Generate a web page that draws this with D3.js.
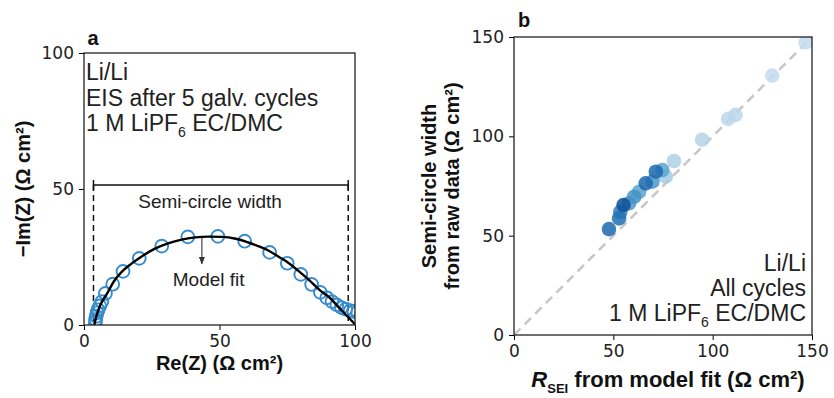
<!DOCTYPE html>
<html>
<head>
<meta charset="utf-8">
<script src="https://cdn.jsdelivr.net/npm/d3@7"></script>
<style>
  html, body { margin: 0; padding: 0; background: #fff; }
  svg { display: block; }
  .tick text { font-family: "DejaVu Sans", sans-serif; font-size: 17px; fill: #222; }
  .lab { font-family: "Liberation Sans", Arial, sans-serif; font-weight: bold; font-size: 20px; fill: #111; }
  .note { font-family: "Liberation Sans", Arial, sans-serif; font-size: 23px; fill: #222; }
  .small { font-family: "Liberation Sans", Arial, sans-serif; font-size: 19px; fill: #222; }
</style>
</head>
<body>
<svg id="fig" width="834" height="398"></svg>
<script>
// Panel a: impedance spectrum (Re, -Im) in Ω cm²
const eisRe = [4.2, 4.3, 4.5, 4.8, 5.2, 5.8, 6.6, 7.9, 10.6, 14.4, 20.4, 28.7, 38.3, 49.4, 59.3, 68.5, 75.0, 80.0, 84.0, 87.2, 89.6, 91.5, 93.3, 95.0, 96.6, 98.2, 99.6, 101.0, 102.5, 104.0];
const eisIm = [1.0, 2.0, 3.2, 4.5, 5.6, 7.0, 8.6, 11.6, 15.0, 19.7, 24.5, 29.0, 32.4, 32.6, 30.8, 26.7, 22.7, 18.6, 14.9, 12.0, 10.0, 8.6, 7.4, 6.4, 5.8, 5.3, 5.0, 4.7, 4.5, 4.3];

// Equivalent-circuit fit through the spectrum
const fitRe = [3.8, 4.5, 6.0, 8.5, 11.0, 14.0, 17.3, 21.0, 26.0, 31.0, 36.0, 41.0, 46.0, 51.0, 56.0, 60.0, 64.0, 68.0, 72.0, 75.5, 79.0, 83.0, 87.0, 90.5, 94.0, 97.0, 99.3, 100.0];
const fitIm = [0.0, 3.0, 7.3, 11.5, 16.0, 19.6, 22.4, 25.0, 28.0, 30.0, 31.4, 32.2, 32.5, 32.4, 31.7, 30.6, 29.1, 27.4, 25.0, 22.8, 20.0, 16.6, 12.8, 10.2, 6.5, 3.4, 1.0, 0.2];

// Semi-circle width marker: start/end of the arc on Re(Z) and the bracket height
const widthStart = 3.5, widthEnd = 97.5, bracketIm = 51.5;

const ticksA = [0, 50, 100];

// Panel b: semi-circle width vs fitted R_SEI, shade = position in the Blues map
const rsei  = [146.8, 130.0, 111.5, 107.8, 94.7, 80.5, 76.4, 74.7, 63.0, 69.7, 57.9, 60.5, 53.5, 66.3, 71.4, 52.9, 47.8, 55.1];
const width = [147.3, 130.6, 110.8, 108.8, 98.3, 87.6, 79.7, 83.0, 72.1, 77.2, 66.3, 69.6, 61.9, 76.3, 82.2, 58.7, 53.3, 65.4];
const shade = [0.25, 0.25, 0.28, 0.28, 0.30, 0.32, 0.35, 0.55, 0.55, 0.60, 0.60, 0.62, 0.70, 0.78, 0.78, 0.75, 0.78, 0.88];

const ticksB = [0, 50, 100, 150];

const svg = d3.select("#fig");

// ---------- panel a ----------
const xa = d3.scaleLinear().domain([0, 100]).range([84, 355]);
const ya = d3.scaleLinear().domain([0, 100]).range([325, 53]);

const ga = svg.append("g");
ga.append("clipPath").attr("id", "clipA")
  .append("rect").attr("x", xa(0)).attr("y", ya(100))
  .attr("width", xa(100) - xa(0)).attr("height", ya(0) - ya(100));

ga.append("g").attr("transform", `translate(0,${ya(0)})`)
  .call(d3.axisBottom(xa).tickValues(ticksA).tickSize(5).tickPadding(5))
  .call(g => g.select(".domain").remove());
ga.append("g").attr("transform", `translate(${xa(0)},0)`)
  .call(d3.axisLeft(ya).tickValues(ticksA).tickSize(5).tickPadding(5))
  .call(g => g.select(".domain").remove());

// dashed limits and bracket for the semi-circle width
[widthStart, widthEnd].forEach(v => {
  ga.append("line")
    .attr("x1", xa(v)).attr("x2", xa(v))
    .attr("y1", ya(bracketIm)).attr("y2", ya(0))
    .attr("stroke", "#111").attr("stroke-width", 1.5)
    .attr("stroke-dasharray", "6,4");
  ga.append("line")
    .attr("x1", xa(v)).attr("x2", xa(v))
    .attr("y1", ya(bracketIm) - 5).attr("y2", ya(bracketIm) + 5)
    .attr("stroke", "#111").attr("stroke-width", 1.5);
});
ga.append("line")
  .attr("x1", xa(widthStart)).attr("x2", xa(widthEnd))
  .attr("y1", ya(bracketIm)).attr("y2", ya(bracketIm))
  .attr("stroke", "#111").attr("stroke-width", 1.5);
ga.append("text").attr("class", "small")
  .attr("x", xa(46.5)).attr("y", ya(bracketIm) + 23)
  .attr("text-anchor", "middle")
  .text("Semi-circle width");

// measured spectrum as open circles
ga.append("g").attr("clip-path", "url(#clipA)")
  .selectAll("circle").data(eisRe.map((r, i) => [r, eisIm[i]]))
  .join("circle")
  .attr("cx", d => xa(d[0])).attr("cy", d => ya(d[1]))
  .attr("r", 6.4)
  .attr("fill", "none").attr("stroke", "#378ccd").attr("stroke-width", 1.9);

// model fit
ga.append("path")
  .datum(fitRe.map((r, i) => [r, fitIm[i]]))
  .attr("d", d3.line().x(d => xa(d[0])).y(d => ya(d[1])).curve(d3.curveMonotoneX))
  .attr("fill", "none").attr("stroke", "#000").attr("stroke-width", 2.4);

// "Model fit" annotation with arrow
svg.append("defs").append("marker")
  .attr("id", "arrowHead").attr("viewBox", "0 0 10 10")
  .attr("refX", 9).attr("refY", 5)
  .attr("markerWidth", 7).attr("markerHeight", 7)
  .attr("orient", "auto")
  .append("path").attr("d", "M0,1 L10,5 L0,9 Z").attr("fill", "#333");
ga.append("line")
  .attr("x1", xa(43.5)).attr("x2", xa(43.5))
  .attr("y1", ya(32.3)).attr("y2", ya(22.5))
  .attr("stroke", "#333").attr("stroke-width", 1.1)
  .attr("marker-end", "url(#arrowHead)");
ga.append("text").attr("class", "small")
  .attr("x", xa(46)).attr("y", ya(14.5))
  .attr("text-anchor", "middle")
  .text("Model fit");

// frame
ga.append("rect")
  .attr("x", xa(0)).attr("y", ya(100))
  .attr("width", xa(100) - xa(0)).attr("height", ya(0) - ya(100))
  .attr("fill", "none").attr("stroke", "#222").attr("stroke-width", 1.3);

// info text
const infoA = ga.append("text").attr("class", "note");
infoA.append("tspan").attr("x", xa(0) + 2).attr("y", ya(100) + 27).text("Li/Li");
infoA.append("tspan").attr("x", xa(0) + 2).attr("y", ya(100) + 53).text("EIS after 5 galv. cycles");
const l3a = ga.append("text").attr("class", "note").attr("x", xa(0) + 2).attr("y", ya(100) + 78);
l3a.append("tspan").text("1 M LiPF");
l3a.append("tspan").attr("font-size", 14).attr("dy", 6).text("6");
l3a.append("tspan").attr("dy", -6).text(" EC/DMC");

// labels
ga.append("text").attr("class", "lab").attr("x", 93).attr("y", 45).attr("text-anchor", "middle").text("a");
ga.append("text").attr("class", "lab")
  .attr("x", (xa(0) + xa(100)) / 2).attr("y", 370).attr("text-anchor", "middle")
  .text("Re(Z) (Ω cm²)");
ga.append("text").attr("class", "lab")
  .attr("transform", `translate(30,${(ya(0) + ya(100)) / 2}) rotate(-90)`)
  .attr("text-anchor", "middle")
  .text("−Im(Z) (Ω cm²)");

// ---------- panel b ----------
const xb = d3.scaleLinear().domain([0, 150]).range([514, 812]);
const yb = d3.scaleLinear().domain([0, 150]).range([335, 37]);

const gb = svg.append("g");
gb.append("clipPath").attr("id", "clipB")
  .append("rect").attr("x", xb(0)).attr("y", yb(150))
  .attr("width", xb(150) - xb(0)).attr("height", yb(0) - yb(150));

gb.append("g").attr("transform", `translate(0,${yb(0)})`)
  .call(d3.axisBottom(xb).tickValues(ticksB).tickSize(5).tickPadding(5))
  .call(g => g.select(".domain").remove());
gb.append("g").attr("transform", `translate(${xb(0)},0)`)
  .call(d3.axisLeft(yb).tickValues(ticksB).tickSize(5).tickPadding(5))
  .call(g => g.select(".domain").remove());

// parity line
gb.append("line")
  .attr("x1", xb(0)).attr("y1", yb(0)).attr("x2", xb(150)).attr("y2", yb(150))
  .attr("stroke", "#c8c8c8").attr("stroke-width", 2.6)
  .attr("stroke-dasharray", "9,6");

const pts = rsei.map((r, i) => ({ x: r, y: width[i], s: shade[i] }));
gb.append("g").attr("clip-path", "url(#clipB)")
  .selectAll("circle").data(pts).join("circle")
  .attr("cx", d => xb(d.x)).attr("cy", d => yb(d.y))
  .attr("r", 7.3)
  .attr("fill", d => d3.interpolateBlues(d.s))
  .attr("fill-opacity", 0.85);

gb.append("rect")
  .attr("x", xb(0)).attr("y", yb(150))
  .attr("width", xb(150) - xb(0)).attr("height", yb(0) - yb(150))
  .attr("fill", "none").attr("stroke", "#222").attr("stroke-width", 1.3);

const rx = xb(150) - 6;
const infoB = gb.append("text").attr("class", "note").attr("text-anchor", "end");
infoB.append("tspan").attr("x", rx).attr("y", 271).text("Li/Li");
infoB.append("tspan").attr("x", rx).attr("y", 296).text("All cycles");
const l3b = gb.append("text").attr("class", "note").attr("text-anchor", "end").attr("x", rx).attr("y", 321);
l3b.append("tspan").text("1 M LiPF");
l3b.append("tspan").attr("font-size", 14).attr("dy", 6).text("6");
l3b.append("tspan").attr("dy", -6).text(" EC/DMC");

gb.append("text").attr("class", "lab").attr("x", 524).attr("y", 27).attr("text-anchor", "middle").text("b");

const xl = gb.append("text").attr("class", "lab").attr("font-size", 22)
  .style("font-size", "22px")
  .attr("x", (xb(0) + xb(150)) / 2 + 5).attr("y", 387).attr("text-anchor", "middle");
xl.append("tspan").attr("font-style", "italic").text("R");
xl.append("tspan").attr("font-size", 13).attr("dy", 6).text("SEI");
xl.append("tspan").attr("dy", -6).text(" from model fit (Ω cm²)");

const yl = gb.append("text").attr("class", "lab")
  .attr("transform", `translate(436,${(yb(0) + yb(150)) / 2}) rotate(-90)`)
  .attr("text-anchor", "middle");
yl.append("tspan").attr("x", 0).attr("y", 0).text("Semi-circle width");
yl.append("tspan").attr("x", 0).attr("y", 23).text("from raw data (Ω cm²)");
</script>
</body>
</html>
